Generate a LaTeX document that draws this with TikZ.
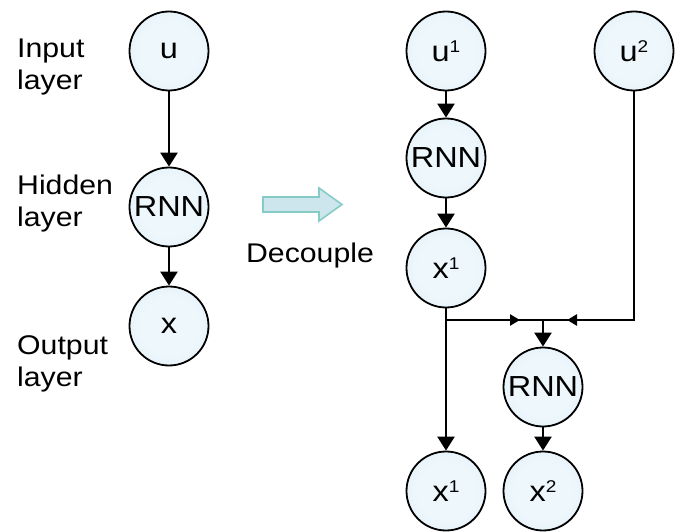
\documentclass[tikz,border=0pt]{standalone}
\usepackage{fontspec}
\setmainfont[FakeStretch=1.12]{Liberation Sans}
\usetikzlibrary{arrows.meta,decorations.markings}
\definecolor{cin}{HTML}{EEF7FC}
\definecolor{cmid}{HTML}{DDEEF7}
\definecolor{cout}{HTML}{C0DCEC}
\definecolor{arrowfill}{HTML}{CDE6EE}
\definecolor{arrowline}{HTML}{86CCC6}
% soft bubble fill: pale centre, light blue rim
\pgfdeclareradialshading{bubble}{\pgfpoint{0bp}{0bp}}{%
  color(0bp)=(cin); color(18bp)=(cin); color(38bp)=(cmid); color(50bp)=(cout)}
\newcommand{\sups}[1]{\raisebox{9pt}{\fontsize{17}{17}\selectfont #1}}
\begin{document}
\begin{tikzpicture}[x=1pt,y=-1pt,
  unit/.style={circle, draw=black, line width=1.8pt, minimum size=79pt, inner sep=0pt,
    shading=bubble, font=\fontsize{29}{31}\selectfont},
  flow/.style={line width=2.5pt, -{Triangle[length=14pt,width=17pt]}},
  wire/.style={line width=2.5pt},
  lbl/.style={align=left, font=\fontsize{27}{32}\selectfont, anchor=north west, inner sep=0pt},
  midtip/.style={wire, postaction={decorate}, decoration={markings,
    mark=at position #1 with {\arrow{Triangle[length=10pt,width=11pt]}}}}
]
\useasboundingbox (0,0) rectangle (681,532);

% layer names
\node[lbl] (lin)  at (17,39)  {Input\\layer};
\node[lbl] (lhid) at (17,175) {Hidden\\layer};
\node[lbl] (lout) at (17,335) {Output\\layer};

% single network
\node[unit] (u) at (169,51)  {u};
\node[unit] (h) at (169,207) {RNN};
\node[unit] (x) at (169,326) {x};
\draw[flow] (u) -- (h);
\draw[flow] (h) -- (x);

% decoupling arrow
\draw[fill=arrowfill, draw=arrowline, line width=1.6pt, line join=miter]
  (263,197) -- (319,197) -- (319,188) -- (342,204.5) -- (319,221) -- (319,212) -- (263,212) -- cycle;
\node[anchor=base, inner sep=0pt, font=\fontsize{27}{31}\selectfont] (dec) at (310,262) {Decouple};

% decoupled networks
\node[unit] (u1) at (446,51)  {u\sups{1}};
\node[unit] (u2) at (634,51)  {u\sups{2}};
\node[unit] (h1) at (446,158) {RNN};
\node[unit] (x1) at (446,268) {x\sups{1}};
\node[unit] (h2) at (543,387) {RNN};
\node[unit] (y1) at (446,491) {x\sups{1}};
\node[unit] (y2) at (543,491) {x\sups{2}};
\coordinate (ja) at (446,320);
\coordinate (jm) at (543,320);
\coordinate (jb) at (634,320);

\draw[flow] (u1) -- (h1);
\draw[flow] (h1) -- (x1);
\draw[flow] (x1) -- (y1);
\draw[midtip=74pt] (ja) -- (jm);
\draw[midtip=-24pt, line join=miter] (u2) -- (jb) -- (jm);
\draw[flow] (jm) -- (h2);
\draw[flow] (h2) -- (y2);
\end{tikzpicture}
\end{document}
